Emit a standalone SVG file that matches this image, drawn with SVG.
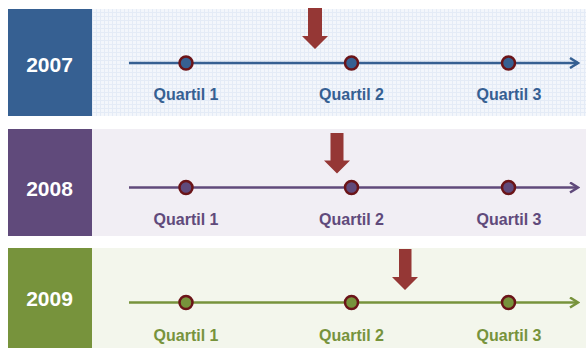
<svg xmlns="http://www.w3.org/2000/svg" width="586" height="348" viewBox="0 0 586 348">
<style>
.yr{font-family:"Liberation Sans",Arial,sans-serif;font-weight:bold;font-size:21px;fill:#ffffff;text-anchor:middle}
.q{font-family:"Liberation Sans",Arial,sans-serif;font-weight:bold;font-size:16px;text-anchor:middle}
.dot{stroke:#6b1418;stroke-width:2.5}
.mark{fill:#953735}
</style>
<defs>
<pattern id="grid" width="4" height="4" patternUnits="userSpaceOnUse">
<rect width="4" height="4" fill="#f3f6fb"/>
<path d="M0 0.5H4M0.5 0V4" stroke="#e4ebf6" stroke-width="1"/>
</pattern>
<marker id="ab" viewBox="0 0 12 12" refX="10" refY="6" markerWidth="12" markerHeight="12" markerUnits="userSpaceOnUse" orient="auto">
<path d="M2 1L10 6L2 11" fill="none" stroke="#366092" stroke-width="2.5"/>
</marker>
<marker id="ap" viewBox="0 0 12 12" refX="10" refY="6" markerWidth="12" markerHeight="12" markerUnits="userSpaceOnUse" orient="auto">
<path d="M2 1L10 6L2 11" fill="none" stroke="#604a7b" stroke-width="2.5"/>
</marker>
<marker id="ag" viewBox="0 0 12 12" refX="10" refY="6" markerWidth="12" markerHeight="12" markerUnits="userSpaceOnUse" orient="auto">
<path d="M2 1L10 6L2 11" fill="none" stroke="#77933c" stroke-width="2.5"/>
</marker>
</defs>
<rect width="586" height="348" fill="#ffffff"/>

<g id="band2007">
<rect x="92" y="9" width="494" height="107" fill="url(#grid)"/>
<rect x="8" y="9" width="84" height="107" fill="#366092"/>
<text class="yr" x="49.5" y="72">2007</text>
</g>
<g id="band2008">
<rect x="92" y="129" width="494" height="107" fill="#f1eef4"/>
<rect x="8" y="129" width="84" height="107" fill="#604a7b"/>
<text class="yr" x="49.5" y="196">2008</text>
</g>
<g id="band2009">
<rect x="92" y="248" width="494" height="100" fill="#f3f6ec"/>
<rect x="8" y="248" width="84" height="100" fill="#77933c"/>
<text class="yr" x="49.5" y="306">2009</text>
</g>

<g id="connectors">
<line x1="129" y1="63" x2="578" y2="63" stroke="#366092" stroke-width="2.5" marker-end="url(#ab)"/>
<line x1="129" y1="187.5" x2="578" y2="187.5" stroke="#604a7b" stroke-width="2.5" marker-end="url(#ap)"/>
<line x1="129" y1="302.5" x2="578" y2="302.5" stroke="#77933c" stroke-width="2.5" marker-end="url(#ag)"/>
</g>

<g id="q2007" fill="#366092">
<circle class="dot" cx="186" cy="63" r="6.5"/>
<circle class="dot" cx="351.5" cy="63" r="6.5"/>
<circle class="dot" cx="508.5" cy="63" r="6.5"/>
<text class="q" x="186" y="100">Quartil 1</text>
<text class="q" x="351.5" y="100">Quartil 2</text>
<text class="q" x="509" y="100">Quartil 3</text>
</g>
<g id="q2008" fill="#604a7b">
<circle class="dot" cx="186" cy="187.5" r="6.5"/>
<circle class="dot" cx="351.5" cy="187.5" r="6.5"/>
<circle class="dot" cx="508.5" cy="187.5" r="6.5"/>
<text class="q" x="186" y="225">Quartil 1</text>
<text class="q" x="351.5" y="225">Quartil 2</text>
<text class="q" x="509" y="225">Quartil 3</text>
</g>
<g id="q2009" fill="#77933c">
<circle class="dot" cx="186" cy="302.5" r="6.5"/>
<circle class="dot" cx="351.5" cy="302.5" r="6.5"/>
<circle class="dot" cx="508.5" cy="302.5" r="6.5"/>
<text class="q" x="186" y="341">Quartil 1</text>
<text class="q" x="351.5" y="341">Quartil 2</text>
<text class="q" x="509" y="341">Quartil 3</text>
</g>

<g id="markers">
<path class="mark" d="M308 8H322V36H328L315 49L302 36H308Z"/>
<path class="mark" d="M330.5 133H343.5V160.5H350L337 173.5L324 160.5H330.5Z"/>
<path class="mark" d="M399 249H411.5V277H418L405 290L392 277H399Z"/>
</g>
</svg>
